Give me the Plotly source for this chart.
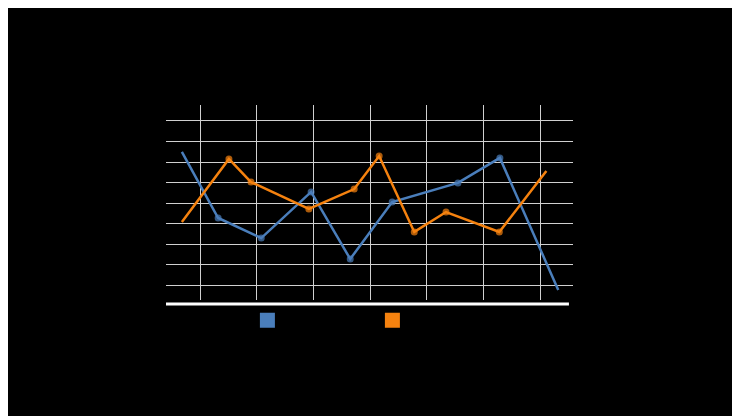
import plotly.graph_objects as go

blue_x = [-0.32, 0.32, 1.08, 1.96, 2.65, 3.39, 4.55, 5.29, 6.32]
blue_y = [6.49, 3.27, 2.29, 4.54, 1.27, 4.05, 4.98, 6.2, -0.24]
orange_x = [-0.32, 0.51, 0.9, 1.92, 2.72, 3.16, 3.78, 4.34, 5.28, 6.11]
orange_y = [3.07, 6.15, 5.02, 3.71, 4.68, 6.29, 2.59, 3.56, 2.59, 5.56]
names = ["Series1", "Series2"]
colors = ["#4a7ebb", "#f5820f"]

fig = go.Figure()
for xs, ys, c in [(blue_x, blue_y, colors[0]), (orange_x, orange_y, colors[1])]:
    sizes = [0] + [7] * (len(xs) - 2) + [0]
    fig.add_trace(go.Scatter(x=xs, y=ys, mode='lines+markers', showlegend=False,
                             line=dict(color=c, width=2.5),
                             marker=dict(color=c, size=sizes, line=dict(width=0))))
for n, c in zip(names, colors):
    fig.add_trace(go.Scatter(x=[None], y=[None], mode='markers', name=n,
                             marker=dict(symbol='square', size=15, color=c, line=dict(width=0))))

fig.add_shape(type='line', xref='paper', yref='paper', x0=0, x1=0.99, y0=-0.02, y1=-0.02,
              line=dict(color='white', width=3))
fig.update_layout(
    width=740, height=416, paper_bgcolor='black', plot_bgcolor='black',
    margin=dict(l=158, r=175, t=97, b=124),
    xaxis=dict(range=[-0.6, 6.58], dtick=1, tick0=0, showgrid=True, gridcolor='#d0d0d0',
               gridwidth=1, zeroline=False, showticklabels=False),
    yaxis=dict(range=[-0.73, 8.78], dtick=1, tick0=0, showgrid=True, gridcolor='#d0d0d0',
               gridwidth=1, zeroline=False, showticklabels=False),
    legend=dict(orientation='h', x=0.2, xanchor='left', y=-0.03, yanchor='top',
                font=dict(color='black', size=12), itemwidth=30, entrywidth=80),
)
fig.write_html("out.html")
